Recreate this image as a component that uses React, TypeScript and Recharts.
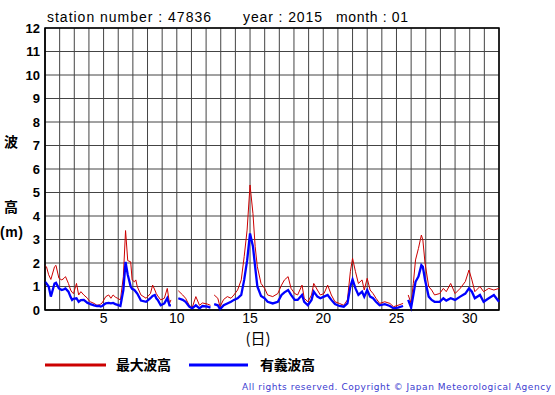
import { CartesianGrid, Line, LineChart, ReferenceArea, XAxis, YAxis } from "recharts";

// sample times (day of month), null values mark missing observations
const days = [
  1.0, 1.1, 1.25, 1.4, 1.65, 1.75, 1.95, 2.15, 2.3, 2.4, 2.6, 2.75, 2.85, 2.95, 3.15, 3.3, 3.45, 3.65, 3.9, 4.0,
  4.1, 4.35, 4.55, 4.7, 4.8, 4.9, 5.15, 5.35, 5.5, 5.65, 5.8, 5.95, 6.15, 6.35, 6.5, 6.65, 6.85, 6.95, 7.1, 7.2,
  7.3, 7.55, 7.9, 8.2, 8.35, 8.5, 8.6, 8.7, 8.9, 9.15, 9.35, 9.5, 9.6, 9.8, 10.1, 10.4, 10.6, 10.85, 11.05, 11.3,
  11.55, 11.75, 12.1, 12.3, 12.42, 12.55, 12.8, 12.95, 13.2, 13.45, 13.7, 13.9, 14.15, 14.4, 14.6, 14.8, 15.0, 15.2, 15.35, 15.5,
  15.75, 16.0, 16.2, 16.55, 16.9, 17.15, 17.35, 17.6, 17.8, 18.05, 18.25, 18.55, 18.7, 18.95, 19.2, 19.35, 19.6, 19.8, 20.05, 20.3,
  20.55, 20.8, 21.1, 21.4, 21.65, 21.85, 22.0, 22.2, 22.4, 22.65, 22.8, 23.0, 23.2, 23.4, 23.6, 23.85, 24.2, 24.55, 24.8, 25.1,
  25.45, 25.62, 25.8, 26.0, 26.15, 26.3, 26.5, 26.7, 26.8, 26.95, 27.2, 27.4, 27.6, 27.95, 28.2, 28.4, 28.7, 29.0, 29.35, 29.7,
  29.95, 30.15, 30.35, 30.7, 30.95, 31.3, 31.65, 32.0,
];

// 最大波高 (m)
const maxWave = [
  1.9, 1.84, 1.5, 1.3, 1.84, 1.9, 1.35, 1.28, 1.35, 1.42, 1.13, 0.85, 0.75, 0.7, 1.13, 0.64, 0.78, 0.64, 0.5, 0.4,
  0.35, 0.28, 0.2, 0.22, 0.25, 0.3, 0.57, 0.64, 0.5, 0.64, 0.55, 0.5, 0.43, 1.42, 3.38, 2.1, 2.05, 1.28, 1.2, 1.28,
  1.0, 0.64, 0.5, 0.7, 1.06, 0.85, 0.7, 0.6, 0.43, 0.5, 0.92, 0.28, 0.43, null, 0.82, 0.64, 0.5, 0.2, 0.1, 0.57,
  0.2, 0.3, 0.25, 0.2, null, 0.64, 0.5, 0.14, 0.45, 0.57, 0.5, 0.64, 0.85, 1.28, 2.27, 3.4, 5.32, 4.1, 2.7, 1.84,
  1.13, 0.92, 0.64, 0.57, 0.7, 1.06, 1.28, 1.42, 0.92, 0.7, 0.64, 1.06, 0.5, 0.35, 0.64, 1.13, 0.85, 0.64, 0.7, 1.06,
  0.64, 0.35, 0.28, 0.2, 0.43, 1.63, 2.2, 1.63, 1.13, 1.28, 0.85, 1.35, 0.85, 0.7, 0.5, 0.28, 0.35, 0.28, 0.14, 0.2,
  0.28, null, 0.64, 0.28, 1.13, 2.13, 2.62, 3.19, 2.98, 1.99, 1.0, 0.85, 0.64, 0.7, 0.92, 0.78, 1.13, 0.7, 0.92, 1.21,
  1.7, 1.28, 0.78, 1.0, 0.78, 0.92, 0.85, 0.92,
];

// 有義波高 (m)
const sigWave = [
  1.2, 1.13, 1.0, 0.57, 1.13, 1.16, 0.92, 0.85, 0.88, 0.92, 0.78, 0.55, 0.43, 0.48, 0.5, 0.35, 0.42, 0.43, 0.3, 0.28,
  0.25, 0.2, 0.17, 0.17, 0.15, 0.17, 0.28, 0.3, 0.28, 0.3, 0.25, 0.22, 0.17, 0.85, 2.05, 1.5, 1.0, 0.9, 0.85, 0.78,
  0.7, 0.4, 0.35, 0.5, 0.6, 0.64, 0.5, 0.43, 0.2, 0.28, 0.5, 0.2, 0.2, null, 0.5, 0.43, 0.35, 0.14, 0.07, 0.2,
  0.07, 0.17, 0.14, 0.1, null, 0.25, 0.2, 0.03, 0.2, 0.28, 0.35, 0.43, 0.5, 0.64, 1.28, 2.1, 3.26, 2.7, 1.84, 1.0,
  0.6, 0.5, 0.35, 0.28, 0.35, 0.64, 0.75, 0.85, 0.64, 0.43, 0.43, 0.64, 0.35, 0.2, 0.43, 0.78, 0.57, 0.5, 0.57, 0.64,
  0.43, 0.25, 0.17, 0.14, 0.28, 1.0, 1.3, 0.92, 0.64, 0.78, 0.57, 0.85, 0.57, 0.5, 0.35, 0.2, 0.25, 0.17, 0.07, 0.1,
  0.17, null, 0.43, 0.1, 0.64, 1.2, 1.42, 1.91, 1.84, 1.28, 0.57, 0.43, 0.35, 0.35, 0.5, 0.4, 0.5, 0.43, 0.57, 0.7,
  0.92, 0.78, 0.5, 0.64, 0.35, 0.5, 0.64, 0.35,
];

const dayTicks = Array.from({ length: 32 }, (_, i) => i + 1);
const heightTicks = [0, 1, 2, 3, 4, 5, 6, 7, 8, 9, 10, 11, 12];

const data = days.map((d, i) => ({ day: d, max: maxWave[i], sig: sigWave[i] }));

const FONT = "'Liberation Sans', Arial, sans-serif";
const CJK = "'Noto Sans CJK JP', sans-serif";

export default function App() {
  return (
    <div style={{ position: "absolute", left: 0, top: 0, width: 555, height: 395, background: "#fff", fontFamily: FONT }}>
      <LineChart width={555} height={395} data={data} margin={{ top: 28, right: 56, left: 5, bottom: 55 }}>
        <CartesianGrid stroke="#444" strokeWidth={1} />
        <XAxis
          dataKey="day"
          type="number"
          domain={[1, 32]}
          ticks={dayTicks}
          interval={0}
          height={30}
          tickLine={false}
          tickSize={2}
          tickMargin={1}
          axisLine={{ stroke: "#000" }}
          tickFormatter={(v: number) => (v % 5 === 0 ? String(v) : "")}
          tick={{ fontSize: 14, fill: "#000", fontFamily: FONT }}
        />
        <YAxis
          type="number"
          domain={[0, 12]}
          ticks={heightTicks}
          interval={0}
          width={40}
          tickLine={false}
          tickSize={3}
          tickMargin={2}
          axisLine={{ stroke: "#000" }}
          tick={{ fontSize: 13, fontWeight: "bold", fill: "#000", fontFamily: FONT }}
        />
        <ReferenceArea x1={1} x2={32} y1={0} y2={12} fill="none" stroke="#000" strokeWidth={1.5} />
        <Line dataKey="max" type="linear" stroke="#cc0000" strokeWidth={1} dot={false} connectNulls={false} isAnimationActive={false} />
        <Line dataKey="sig" type="linear" stroke="#0000ff" strokeWidth={2.3} dot={false} connectNulls={false} isAnimationActive={false} />
      </LineChart>
      <svg width={555} height={395} style={{ position: "absolute", left: 0, top: 0, pointerEvents: "none" }}>
        <g fontFamily={FONT} fontSize={14} fill="#000">
          <text x={47} y={22} textLength={164} lengthAdjust="spacing">station number : 47836</text>
          <text x={243} y={22} textLength={79} lengthAdjust="spacing">year : 2015</text>
          <text x={336} y={22} textLength={72} lengthAdjust="spacing">month : 01</text>
        </g>
        <g fontFamily={CJK} fontWeight="bold" fontSize={14} fill="#000">
          <text x={4} y={147}>波</text>
          <text x={4} y={212}>高</text>
          <text x={0} y={237} fontFamily={FONT} fontSize={14} textLength={23} lengthAdjust="spacing">(m)</text>
          <text x={258} y={344} fontWeight="normal" fontSize={15} textAnchor="middle">(日)</text>
        </g>
        <line x1={45} y1={365} x2={106} y2={365} stroke="#cc0000" strokeWidth={3} />
        <line x1={189} y1={365} x2={248} y2={365} stroke="#0000ff" strokeWidth={3} />
        <g fontFamily={CJK} fontWeight="bold" fontSize={14} fill="#000">
          <text x={116} y={370} textLength={55} lengthAdjust="spacing">最大波高</text>
          <text x={260} y={370} textLength={55} lengthAdjust="spacing">有義波高</text>
        </g>
        <text x={242} y={390} fontFamily="'DejaVu Sans', sans-serif" fontSize={9} fill="#3b3bd0" textLength={309} lengthAdjust="spacing">
          All rights reserved. Copyright © Japan Meteorological Agency
        </text>
      </svg>
    </div>
  );
}
